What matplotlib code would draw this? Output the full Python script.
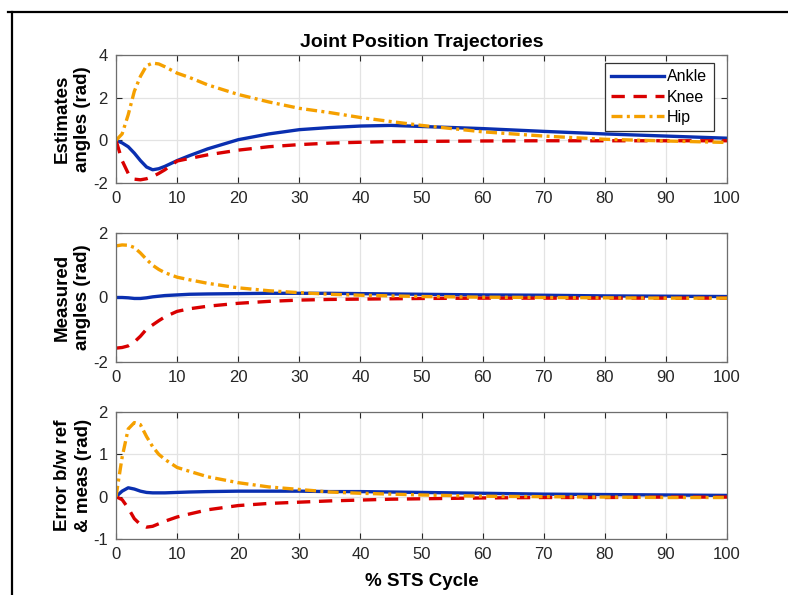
import matplotlib
matplotlib.use("Agg")
import matplotlib.pyplot as plt
from matplotlib.lines import Line2D

plt.rcParams['font.family'] = ['Liberation Sans', 'DejaVu Sans']
plt.rcParams['axes.unicode_minus'] = False

x = [0, 1, 2, 3, 4, 5, 6, 7, 8, 10, 12, 15, 20, 25, 30, 35, 40, 45, 50, 60, 70, 80, 90, 100]

est_ankle = [0, -0.12, -0.3, -0.6, -0.95, -1.25, -1.38, -1.33, -1.22, -0.95, -0.72, -0.4, 0.03, 0.3, 0.5, 0.6, 0.67, 0.7, 0.65, 0.55, 0.42, 0.3, 0.2, 0.1]
est_knee = [0, -0.95, -1.55, -1.82, -1.85, -1.8, -1.7, -1.55, -1.38, -0.97, -0.85, -0.68, -0.46, -0.3, -0.2, -0.13, -0.09, -0.06, -0.05, -0.03, -0.02, -0.02, -0.02, -0.02]
est_hip = [0, 0.3, 1.2, 2.3, 3.0, 3.5, 3.62, 3.58, 3.45, 3.15, 2.95, 2.6, 2.15, 1.8, 1.5, 1.3, 1.07, 0.88, 0.7, 0.4, 0.2, 0.05, -0.03, -0.1]

meas_ankle = [0, 0, -0.01, -0.03, -0.03, -0.01, 0.02, 0.04, 0.06, 0.08, 0.1, 0.11, 0.12, 0.13, 0.13, 0.13, 0.12, 0.11, 0.1, 0.08, 0.07, 0.05, 0.04, 0.03]
meas_knee = [-1.57, -1.55, -1.5, -1.38, -1.2, -0.98, -0.85, -0.72, -0.6, -0.43, -0.35, -0.27, -0.18, -0.12, -0.08, -0.06, -0.05, -0.04, -0.03, -0.02, -0.02, -0.02, -0.02, -0.02]
meas_hip = [1.6, 1.63, 1.62, 1.55, 1.38, 1.18, 1.0, 0.87, 0.77, 0.63, 0.55, 0.44, 0.3, 0.21, 0.15, 0.1, 0.07, 0.05, 0.03, 0.01, 0.0, -0.01, -0.02, -0.02]

err_ankle = [0, 0.13, 0.21, 0.18, 0.13, 0.1, 0.09, 0.09, 0.09, 0.1, 0.11, 0.12, 0.13, 0.13, 0.13, 0.12, 0.12, 0.11, 0.1, 0.08, 0.06, 0.05, 0.04, 0.03]
err_knee = [0, -0.07, -0.27, -0.52, -0.66, -0.72, -0.7, -0.64, -0.58, -0.48, -0.41, -0.31, -0.21, -0.16, -0.13, -0.1, -0.08, -0.06, -0.05, -0.03, -0.02, -0.02, -0.01, -0.01]
err_hip = [0, 0.93, 1.6, 1.75, 1.7, 1.42, 1.18, 1.0, 0.88, 0.69, 0.6, 0.47, 0.33, 0.23, 0.17, 0.11, 0.08, 0.06, 0.04, 0.01, 0.0, -0.01, -0.02, -0.02]

series_names = ["Ankle", "Knee", "Hip"]
ylabels = ["Estimates\nangles (rad)", "Measured\nangles (rad)", "Error b/w ref\n& meas (rad)"]
ylims = [(-2, 4), (-2, 2), (-1, 2)]
yticks = [[-2, 0, 2, 4], [-2, 0, 2], [-1, 0, 1, 2]]
xticks = [0, 10, 20, 30, 40, 50, 60, 70, 80, 90, 100]

data = [
    (est_ankle, est_knee, est_hip),
    (meas_ankle, meas_knee, meas_hip),
    (err_ankle, err_knee, err_hip),
]

colors = ["#0a2fb0", "#d90000", "#f5a000"]
lw = 2.4
styles = [dict(linestyle='-'),
          dict(linestyle=(0, (4.0, 2.6))),
          dict(linestyle=(0, (3.3, 1.3, 0.9, 1.3)))]

W, H = 788, 595
fig = plt.figure(figsize=(W / 100, H / 100), dpi=100)

left = 116 / W
width = (727 - 116) / W
boxes = [(55, 183), (233, 362), (412, 539)]

axes = []
for i, (top, bot) in enumerate(boxes):
    ax = fig.add_axes([left, 1 - bot / H, width, (bot - top) / H])
    axes.append(ax)
    a, k, h = data[i]
    ax.plot(x, a, color=colors[0], lw=lw, label=series_names[0], **styles[0])
    ax.plot(x, k, color=colors[1], lw=lw, label=series_names[1], **styles[1])
    ax.plot(x, h, color=colors[2], lw=lw, label=series_names[2], **styles[2])
    ax.set_xlim(0, 100)
    ax.set_ylim(*ylims[i])
    ax.set_xticks(xticks)
    ax.set_yticks(yticks[i])
    ax.grid(True, color="#e3e3e3", lw=0.9)
    ax.set_axisbelow(True)
    ax.tick_params(direction='in', top=True, right=True, labelsize=12,
                   colors="#262626", length=4, width=0.8)
    ax.tick_params(axis='x', pad=6)
    ax.tick_params(axis='y', pad=6)
    for s in ax.spines.values():
        s.set_color("#6e6e6e")
        s.set_linewidth(0.9)
    ax.set_ylabel(ylabels[i], fontsize=13.5, fontweight='bold', labelpad=1, linespacing=1.25)

axes[0].set_title("Joint Position Trajectories", fontsize=14, fontweight='bold', pad=6)
axes[2].set_xlabel("% STS Cycle", fontsize=13.5, fontweight='bold', labelpad=8)

leg = axes[0].legend(loc='upper right', fontsize=11.5, handlelength=3.3, handletextpad=0.2,
                     borderpad=0.4, labelspacing=0.33, fancybox=False, framealpha=1,
                     edgecolor="#333333", bbox_to_anchor=(0.978, 0.9375), borderaxespad=0)
leg.get_frame().set_linewidth(0.9)

# outer frame lines
fig.add_artist(Line2D([8 / W, 1.0], [1 - 12 / H, 1 - 12 / H], color='black', lw=1.6,
                      transform=fig.transFigure))
fig.add_artist(Line2D([12 / W, 12 / W], [0, 1 - 12 / H], color='black', lw=1.6,
                      transform=fig.transFigure))

fig.savefig("out.png", dpi=100)
